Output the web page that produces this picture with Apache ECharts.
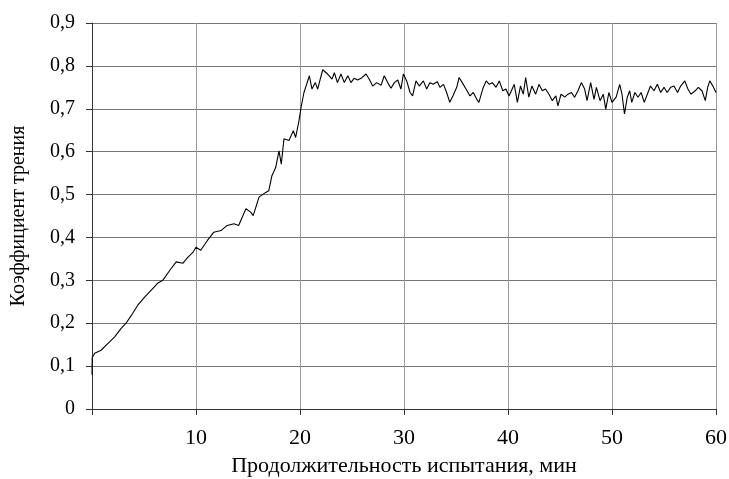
<!DOCTYPE html>
<html>
<head>
<meta charset="utf-8">
<script src="https://cdn.jsdelivr.net/npm/echarts@6/dist/echarts.min.js"></script>
<style>
  html, body { margin: 0; padding: 0; background: #fff; }
  #main { width: 729px; height: 479px; }
</style>
</head>
<body>
<div id="main"></div>
<script>
// время, мин
var time = [
  0, 0.02, 0.26, 0.87, 1.54, 2.18, 2.8, 3.27, 3.75, 4.4, 5.06, 5.7, 6.35, 6.8, 7.47, 8.1, 8.75, 9.23, 9.7,
  10.0, 10.45, 11.1, 11.7, 12.4, 13.0, 13.65, 14.1, 14.8, 15.26, 15.5, 16.06, 16.7, 17.0, 17.3, 17.66, 17.98, 18.2, 18.46, 18.94, 19.36, 19.58, 19.9,
  20.1, 20.38, 20.58, 20.9, 21.15, 21.47, 21.7, 22.18, 22.66, 23.08, 23.3, 23.6, 23.94, 24.26, 24.6, 24.9, 25.2, 25.55, 25.87, 26.35, 26.66, 26.99, 27.37, 27.8, 28.1, 28.43, 28.75, 29.07, 29.4, 29.7, 29.94,
  30.26, 30.58, 30.83, 31.15, 31.47, 31.86, 32.18, 32.5, 32.8, 33.2, 33.46, 33.8, 34.1, 34.4, 34.7, 35.07, 35.3, 35.6, 35.96, 36.35, 36.66, 37.0, 37.2, 37.57, 37.9, 38.2, 38.5, 38.85, 39.16, 39.5, 39.8,
  40.1, 40.4, 40.6, 40.9, 41.2, 41.47, 41.7, 42.0, 42.3, 42.66, 42.98, 43.3, 43.6, 43.94, 44.26, 44.6, 44.8, 45.1, 45.45, 45.77, 46.1, 46.4, 46.73, 47.05, 47.37, 47.6, 47.95, 48.27, 48.5, 48.85, 49.16, 49.4, 49.7,
  50.0, 50.4, 50.74, 50.96, 51.2, 51.47, 51.7, 51.9, 52.2, 52.5, 52.8, 53.1, 53.46, 53.7, 54.04, 54.36, 54.68, 55.0, 55.3, 55.64, 55.96, 56.3, 56.6, 57.0, 57.3, 57.6, 58.0, 58.3, 58.65, 58.97, 59.2, 59.4, 59.7, 60.0
];
// коэффициент трения
var friction = [
  0.08, 0.12, 0.13, 0.137, 0.153, 0.168, 0.188, 0.2, 0.217, 0.242, 0.261, 0.277, 0.294, 0.3, 0.323, 0.343, 0.34, 0.354, 0.365,
  0.377, 0.37, 0.393, 0.412, 0.416, 0.428, 0.432, 0.428, 0.467, 0.459, 0.451, 0.494, 0.505, 0.509, 0.544, 0.563, 0.602, 0.571, 0.63, 0.626, 0.649, 0.633, 0.672,
  0.703, 0.738, 0.753, 0.777, 0.746, 0.761, 0.746, 0.791, 0.781, 0.769, 0.784, 0.761, 0.781, 0.761, 0.777, 0.761, 0.771, 0.767, 0.771, 0.781, 0.769, 0.753, 0.761, 0.755, 0.777, 0.761, 0.748, 0.761, 0.767, 0.746, 0.781,
  0.765, 0.738, 0.73, 0.765, 0.753, 0.765, 0.746, 0.761, 0.757, 0.763, 0.75, 0.757, 0.738, 0.715, 0.73, 0.75, 0.773, 0.761, 0.746, 0.73, 0.738, 0.722, 0.715, 0.746, 0.765, 0.757, 0.761, 0.75, 0.765, 0.742, 0.746,
  0.73, 0.746, 0.757, 0.715, 0.753, 0.734, 0.773, 0.727, 0.753, 0.734, 0.757, 0.742, 0.746, 0.734, 0.719, 0.73, 0.707, 0.734, 0.727, 0.734, 0.738, 0.727, 0.742, 0.761, 0.746, 0.719, 0.761, 0.722, 0.75, 0.719, 0.734, 0.699, 0.738,
  0.715, 0.727, 0.757, 0.734, 0.688, 0.727, 0.742, 0.715, 0.738, 0.727, 0.738, 0.715, 0.738, 0.753, 0.742, 0.757, 0.738, 0.75, 0.738, 0.75, 0.753, 0.738, 0.753, 0.765, 0.746, 0.734, 0.742, 0.75, 0.742, 0.719, 0.75, 0.765, 0.753, 0.738
];
var xTicks = [10, 20, 30, 40, 50, 60];

var points = [];
for (var i = 0; i < time.length; i++) {
    points.push([time[i], friction[i]]);
}

var chart = echarts.init(document.getElementById('main'));
var font = 'Liberation Serif, Times New Roman, serif';
var option = {
    animation: false,
    backgroundColor: '#fff',
    grid: { left: 92, right: 13, top: 23, bottom: 70, outerBoundsMode: 'none', containLabel: false },
    xAxis: {
        type: 'value',
        min: 0, max: 60, interval: 10,
        name: 'Продолжительность испытания, мин',
        nameLocation: 'middle',
        nameGap: 46,
        nameTextStyle: { fontFamily: font, fontSize: 22, color: '#000' },
        axisLine: { lineStyle: { color: '#333', width: 1 } },
        axisTick: { show: true, length: 6, lineStyle: { color: '#333' } },
        axisLabel: {
            fontFamily: font, fontSize: 22, color: '#000', margin: 18,
            formatter: function (v) { return xTicks.indexOf(v) >= 0 ? String(v) : ''; }
        },
        splitLine: { show: true, lineStyle: { color: '#999', width: 1 } }
    },
    yAxis: {
        type: 'value',
        min: 0, max: 0.9, interval: 0.1,
        name: 'Коэффициент трения',
        nameLocation: 'middle',
        nameGap: 63,
        nameTextStyle: { fontFamily: font, fontSize: 20, color: '#000' },
        axisLine: { show: true, lineStyle: { color: '#333', width: 1 } },
        axisTick: { show: true, length: 6, lineStyle: { color: '#333' } },
        axisLabel: {
            fontFamily: font, fontSize: 20, color: '#000', margin: 17,
            formatter: function (v) {
                return v === 0 ? '0' : v.toFixed(1).replace('.', ',');
            }
        },
        splitLine: { show: true, lineStyle: { color: '#777', width: 1 } }
    },
    series: [{
        type: 'line',
        data: points,
        showSymbol: false,
        lineStyle: { color: '#000', width: 1.1 }
    }]
};
chart.setOption(option);
</script>
</body>
</html>
